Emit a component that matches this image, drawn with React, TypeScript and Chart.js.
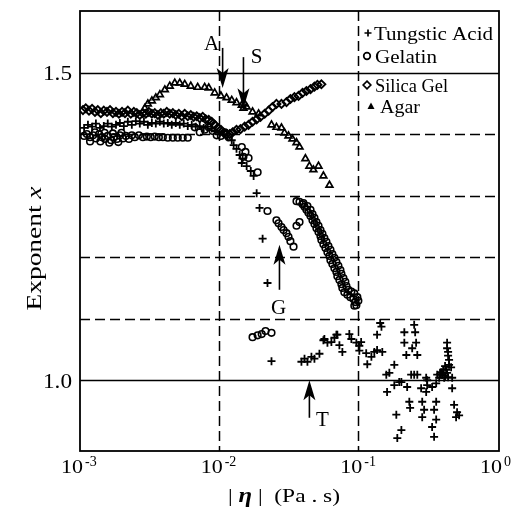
import React, { useEffect, useRef } from "react";
import { Chart, registerables } from "chart.js";

Chart.register(...registerables);

const SERIF = '"Liberation Serif", "Times New Roman", serif';

// ---------------- data (|eta| in Pa.s, exponent x) ----------------
const tungsticAcid: [number, number][] = [
  [0.00107, 1.41], [0.00114, 1.415], [0.00122, 1.412], [0.0013, 1.417], [0.00139, 1.41], [0.00148, 1.413],
  [0.00158, 1.417], [0.00169, 1.412], [0.00181, 1.415], [0.00193, 1.418], [0.00206, 1.413], [0.0022, 1.42],
  [0.00235, 1.415], [0.00251, 1.421], [0.00268, 1.417], [0.00287, 1.42], [0.00306, 1.415], [0.00327, 1.418],
  [0.00349, 1.417], [0.00373, 1.42], [0.00398, 1.417], [0.00425, 1.418], [0.00454, 1.415], [0.00485, 1.418],
  [0.00518, 1.415], [0.00553, 1.417], [0.00591, 1.413], [0.00631, 1.415], [0.00674, 1.412], [0.0072, 1.413],
  [0.00769, 1.41], [0.00821, 1.412], [0.00877, 1.409], [0.00936, 1.405], [0.01, 1.402], [0.0107, 1.399],
  [0.0114, 1.395], [0.0122, 1.39], [0.0126, 1.382], [0.0132, 1.376], [0.0139, 1.366], [0.0146, 1.36],
  [0.0144, 1.353], [0.0156, 1.348], [0.0167, 1.34], [0.0175, 1.332], [0.0184, 1.304], [0.0193, 1.28],
  [0.0203, 1.23], [0.022, 1.158], [0.0235, 1.031],
  [0.0385, 1.03], [0.0405, 1.035], [0.0425, 1.03], [0.0454, 1.038], [0.0477, 1.035], [0.0518, 1.043],
  [0.0553, 1.065], [0.0562, 1.067], [0.0591, 1.061], [0.0631, 1.062], [0.0663, 1.069], [0.0685, 1.074],
  [0.0696, 1.074], [0.072, 1.057], [0.0756, 1.046], [0.0848, 1.075], [0.0877, 1.067], [0.0952, 1.061],
  [0.1, 1.056], [0.103, 1.062], [0.1, 1.048], [0.112, 1.044], [0.114, 1.026], [0.122, 1.038],
  [0.128, 1.046], [0.134, 1.049], [0.146, 1.046], [0.134, 1.074], [0.141, 1.093], [0.144, 1.087],
  [0.178, 1.025], [0.156, 1.009], [0.164, 1.012], [0.158, 0.981], [0.178, 0.992], [0.193, 0.997],
  [0.21, 1.061], [0.217, 1.041], [0.21, 1.078], [0.247, 1.09], [0.251, 1.078], [0.255, 1.061],
  [0.239, 1.052], [0.26, 1.041], [0.235, 1.009], [0.247, 1.009], [0.26, 1.009], [0.22, 0.989],
  [0.2, 0.997], [0.184, 0.944], [0.2, 0.919], [0.187, 0.906], [0.228, 0.965], [0.231, 0.955],
  [0.277, 0.987], [0.282, 0.965], [0.291, 0.952], [0.282, 0.94], [0.301, 1.004], [0.306, 0.992],
  [0.355, 0.965], [0.343, 0.952], [0.332, 0.924], [0.343, 0.908], [0.355, 0.936], [0.361, 1.009],
  [0.385, 1.013], [0.392, 1.009], [0.373, 1.004], [0.418, 1.017], [0.425, 1.012], [0.425, 1.061],
  [0.432, 1.046], [0.432, 1.04], [0.439, 1.033], [0.439, 1.025], [0.425, 1.052], [0.462, 1.004],
  [0.462, 0.987], [0.477, 0.96], [0.501, 0.948], [0.493, 0.94], [0.518, 0.943], [0.454, 1.021],
  [0.405, 1.004], [0.306, 1.0], [0.355, 0.995], [0.301, 0.981], [0.332, 0.989], [0.398, 1.017],
  [0.411, 1.007], [0.379, 1.01], [0.432, 1.005], [0.411, 1.023],
];

const gelatin: [number, number][] = [
  [0.00107, 1.397], [0.00112, 1.4], [0.00118, 1.395], [0.00124, 1.398], [0.0013, 1.393], [0.00137, 1.4],
  [0.00144, 1.395], [0.00151, 1.392], [0.00158, 1.397], [0.00167, 1.39], [0.00175, 1.395], [0.00184, 1.392],
  [0.00193, 1.398], [0.00203, 1.393], [0.00213, 1.397], [0.00224, 1.392], [0.00235, 1.398], [0.00247, 1.395],
  [0.00264, 1.398], [0.00282, 1.395], [0.00301, 1.396], [0.00321, 1.395], [0.00343, 1.396], [0.00367, 1.395],
  [0.00392, 1.395], [0.00425, 1.394], [0.00462, 1.394], [0.00501, 1.394], [0.00544, 1.394], [0.00591, 1.394],
  [0.0014, 1.388], [0.0015, 1.402], [0.00162, 1.386], [0.00172, 1.401], [0.00188, 1.387], [0.00198, 1.402],
  [0.00128, 1.403], [0.00118, 1.388],
  [0.00663, 1.411], [0.0072, 1.403], [0.00781, 1.407], [0.00835, 1.411], [0.00891, 1.405], [0.00952, 1.398],
  [0.0102, 1.397], [0.0109, 1.403], [0.0116, 1.395], [0.0144, 1.379], [0.0153, 1.371], [0.0148, 1.363],
  [0.0161, 1.361], [0.0187, 1.338], [0.022, 1.275], [0.0255, 1.26], [0.0264, 1.255], [0.0277, 1.249],
  [0.0287, 1.244], [0.0301, 1.239], [0.0311, 1.233], [0.0321, 1.226], [0.0338, 1.217], [0.0355, 1.251],
  [0.0373, 1.257], [0.0172, 1.07], [0.0187, 1.073], [0.02, 1.075], [0.0213, 1.08], [0.0235, 1.077],
  [0.0355, 1.291], [0.0373, 1.29], [0.0392, 1.286], [0.0405, 1.282], [0.0418, 1.277], [0.0432, 1.272],
  [0.0447, 1.267], [0.0462, 1.26], [0.0477, 1.254], [0.0493, 1.247], [0.051, 1.241], [0.0527, 1.234],
  [0.0535, 1.228], [0.0553, 1.221], [0.0572, 1.215], [0.0591, 1.208], [0.0611, 1.202], [0.0621, 1.195],
  [0.0641, 1.189], [0.0663, 1.182], [0.0685, 1.176], [0.0696, 1.169], [0.072, 1.163], [0.0744, 1.156],
  [0.0756, 1.15], [0.0781, 1.143], [0.0821, 1.139], [0.0862, 1.135], [0.0906, 1.132], [0.0936, 1.127],
  [0.0952, 1.122],
  [0.0398, 1.288], [0.0425, 1.283], [0.0447, 1.277], [0.0462, 1.27], [0.0477, 1.264], [0.0493, 1.257],
  [0.051, 1.251], [0.0527, 1.244], [0.0544, 1.238], [0.0562, 1.231], [0.0581, 1.225], [0.0601, 1.218],
  [0.0621, 1.212], [0.0641, 1.205], [0.0663, 1.199], [0.0685, 1.192], [0.0708, 1.186], [0.0732, 1.179],
  [0.0744, 1.173], [0.0769, 1.166], [0.0794, 1.16], [0.0808, 1.153], [0.0835, 1.147], [0.0877, 1.144],
  [0.0921, 1.141], [0.0968, 1.135], [0.0984, 1.129], [0.0921, 1.121],
];

const silicaGel: [number, number][] = [
  [0.00105, 1.439], [0.0011, 1.442], [0.00116, 1.438], [0.00122, 1.441], [0.00128, 1.436], [0.00134, 1.439],
  [0.00141, 1.434], [0.00148, 1.438], [0.00156, 1.436], [0.00164, 1.439], [0.00172, 1.434], [0.00181, 1.436],
  [0.0019, 1.433], [0.002, 1.436], [0.0021, 1.434], [0.0022, 1.438], [0.00231, 1.433], [0.00243, 1.436],
  [0.00255, 1.434], [0.00268, 1.431], [0.00282, 1.434], [0.00296, 1.433], [0.00311, 1.436], [0.00327, 1.433],
  [0.00343, 1.434], [0.00361, 1.431], [0.00379, 1.434], [0.00398, 1.433], [0.00418, 1.436], [0.00439, 1.433],
  [0.00462, 1.434], [0.00485, 1.431], [0.0051, 1.433], [0.00535, 1.429], [0.00562, 1.433], [0.00591, 1.429],
  [0.00621, 1.431], [0.00652, 1.428], [0.00685, 1.429], [0.0072, 1.426], [0.00756, 1.428], [0.00794, 1.424],
  [0.00835, 1.423], [0.00877, 1.42], [0.00921, 1.415], [0.00968, 1.41], [0.0102, 1.407], [0.0107, 1.402],
  [0.0112, 1.4], [0.0118, 1.4], [0.0124, 1.403], [0.0132, 1.407], [0.0141, 1.408], [0.0151, 1.412],
  [0.0161, 1.415], [0.0172, 1.42], [0.0184, 1.424], [0.0196, 1.428], [0.021, 1.433], [0.0224, 1.438],
  [0.0239, 1.444], [0.0255, 1.449], [0.0277, 1.449], [0.0301, 1.452], [0.0321, 1.457], [0.0343, 1.46],
  [0.0367, 1.462], [0.0392, 1.467], [0.0418, 1.47], [0.0447, 1.473], [0.0477, 1.477], [0.0501, 1.48],
  [0.0535, 1.481],
];

const agar: [number, number][] = [
  [0.00291, 1.442], [0.00306, 1.449], [0.00327, 1.454], [0.00349, 1.459], [0.00373, 1.464], [0.00405, 1.472],
  [0.00439, 1.478], [0.00477, 1.483], [0.00518, 1.483], [0.00562, 1.481], [0.00621, 1.478], [0.00696, 1.476],
  [0.00781, 1.476], [0.00835, 1.475], [0.00921, 1.467], [0.0102, 1.462], [0.0112, 1.459], [0.0122, 1.455],
  [0.0132, 1.451], [0.0144, 1.447], [0.0151, 1.449], [0.0148, 1.442], [0.0156, 1.444], [0.0172, 1.436],
  [0.019, 1.433], [0.0235, 1.415], [0.0255, 1.411], [0.0277, 1.41], [0.0291, 1.402], [0.0311, 1.397],
  [0.0332, 1.392], [0.0355, 1.386], [0.0373, 1.379], [0.0411, 1.36], [0.0439, 1.348], [0.0469, 1.342],
  [0.051, 1.348], [0.0553, 1.332], [0.0611, 1.317],
];

const seriesNames = ["Tungstic Acid", "Gelatin", "Silica Gel", "Agar"];

// axes
const xMin = 0.001;
const xMax = 1;
const yMin = 0.885;
const yMax = 1.6;
const xTickValues = [0.001, 0.01, 0.1, 1];
const xTickExponents = ["-3", "-2", "-1", "0"];
const yTickValues = [1.0, 1.5];
const yTickLabels = ["1.0", "1.5"];
const solidHLines = [1.0, 1.5];
const dashedHLines = [1.1, 1.2, 1.3, 1.4];
const dashedVLines = [0.01, 0.1];

// arrow annotations
const markLetters = ["A", "S", "G", "T"];
const markArrowX = [0.0105, 0.0148, 0.0268, 0.0439];
const markArrowBaseY = [1.54, 1.525, 1.147, 0.939];
const markArrowTipY = [1.475, 1.442, 1.22, 1.0];
const markLetterX = [0.00877, 0.0184, 0.0264, 0.0544];
const markLetterY = [1.546, 1.525, 1.116, 0.934];

type Seg = { t: string; f: string };

function fitText(ctx: CanvasRenderingContext2D, segs: Seg[], x: number, y: number, width: number, align: "left" | "center" | "right") {
  let total = 0;
  const ws = segs.map((s) => {
    ctx.font = s.f;
    const w = ctx.measureText(s.t).width;
    total += w;
    return w;
  });
  const k = width > 0 ? width / total : 1;
  ctx.save();
  ctx.translate(x, y);
  ctx.scale(k, 1);
  let start = align === "left" ? 0 : align === "center" ? -total / 2 : -total;
  ctx.textAlign = "left";
  ctx.textBaseline = "alphabetic";
  segs.forEach((s, i) => {
    ctx.font = s.f;
    ctx.fillText(s.t, start, 0);
    start += ws[i];
  });
  ctx.restore();
}

function seg(t: string, size: number, style = ""): Seg {
  return { t, f: `${style} ${size}px ${SERIF}`.trim() };
}

const decor = {
  id: "decor",
  beforeDraw(chart: any) {
    const { ctx, width, height } = chart;
    ctx.save();
    ctx.fillStyle = "#fff";
    ctx.fillRect(0, 0, width, height);
    ctx.restore();
  },
  beforeDatasetsDraw(chart: any) {
    const { ctx, chartArea: a, scales } = chart;
    const xs = scales.x;
    const ys = scales.y;
    ctx.save();
    ctx.strokeStyle = "#000";
    ctx.lineWidth = 1.5;
    ctx.setLineDash([10, 5]);
    dashedHLines.forEach((v) => {
      const py = Math.round(ys.getPixelForValue(v)) + 0.5;
      ctx.beginPath();
      ctx.moveTo(a.left, py);
      ctx.lineTo(a.right, py);
      ctx.stroke();
    });
    dashedVLines.forEach((v) => {
      const px = Math.round(xs.getPixelForValue(v)) - 0.5;
      ctx.beginPath();
      ctx.moveTo(px, a.top);
      ctx.lineTo(px, a.bottom);
      ctx.stroke();
    });
    ctx.setLineDash([]);
    ctx.lineWidth = 1.6;
    solidHLines.forEach((v) => {
      const py = Math.round(ys.getPixelForValue(v)) + 0.5;
      ctx.beginPath();
      ctx.moveTo(a.left, py);
      ctx.lineTo(a.right, py);
      ctx.stroke();
    });
    ctx.restore();
  },
  afterDatasetsDraw(chart: any) {
    const { ctx, chartArea: a, scales } = chart;
    const xs = scales.x;
    const ys = scales.y;
    ctx.save();
    ctx.strokeStyle = "#000";
    ctx.fillStyle = "#000";
    // frame
    ctx.lineWidth = 1.8;
    ctx.strokeRect(a.left, a.top, a.right - a.left, a.bottom - a.top);

    // y tick labels
    yTickValues.forEach((v, i) => {
      const py = ys.getPixelForValue(v);
      fitText(ctx, [seg(yTickLabels[i], 21)], a.left - 8, py + 7.5, 29, "right");
    });

    // x tick labels 10^n
    xTickValues.forEach((v, i) => {
      const px = xs.getPixelForValue(v);
      fitText(ctx, [seg("10", 19)], px + 3, a.bottom + 22, 22, "right");
      fitText(ctx, [seg(xTickExponents[i], 14)], px + 5, a.bottom + 15, 0, "left");
    });

    // axis titles
    fitText(ctx, [seg("| ", 19), seg("\u03b7", 20, "italic bold"), seg(" |  (Pa . s)", 19)], 284, 502, 112, "center");
    ctx.save();
    ctx.translate(40.5, 248.5);
    ctx.rotate(-Math.PI / 2);
    fitText(ctx, [seg("Exponent ", 20), seg("x", 20, "italic")], 0, 0, 124, "center");
    ctx.restore();

    // legend
    const lx = 367;
    const rows = [33, 56, 85, 106];
    const textX = [374, 375, 375, 380];
    const textW = [119, 62, 73, 40];
    ctx.lineWidth = 1.7;
    // +
    ctx.beginPath();
    ctx.moveTo(lx + 1 - 3.5, rows[0]);
    ctx.lineTo(lx + 1 + 3.5, rows[0]);
    ctx.moveTo(lx + 1, rows[0] - 3.5);
    ctx.lineTo(lx + 1, rows[0] + 3.5);
    ctx.stroke();
    // o
    ctx.beginPath();
    ctx.arc(lx, rows[1], 3.3, 0, Math.PI * 2);
    ctx.stroke();
    // diamond
    ctx.beginPath();
    ctx.moveTo(lx, rows[2] - 3.8);
    ctx.lineTo(lx + 3.8, rows[2]);
    ctx.lineTo(lx, rows[2] + 3.8);
    ctx.lineTo(lx - 3.8, rows[2]);
    ctx.closePath();
    ctx.stroke();
    // filled triangle
    ctx.beginPath();
    ctx.moveTo(lx + 4, rows[3] - 3.5);
    ctx.lineTo(lx + 7.5, rows[3] + 3);
    ctx.lineTo(lx + 0.5, rows[3] + 3);
    ctx.closePath();
    ctx.fill();
    seriesNames.forEach((n, i) => {
      fitText(ctx, [seg(n, 19)], textX[i], rows[i] + 6.5, textW[i], "left");
    });

    // arrows + letters
    ctx.lineWidth = 1.6;
    markLetters.forEach((L, i) => {
      const px = xs.getPixelForValue(markArrowX[i]);
      const pb = ys.getPixelForValue(markArrowBaseY[i]);
      const pt = ys.getPixelForValue(markArrowTipY[i]);
      const dir = pt > pb ? 1 : -1;
      const headLen = 20;
      const headW = 6;
      ctx.beginPath();
      ctx.moveTo(px, pb);
      ctx.lineTo(px, pt - dir * headLen * 0.6);
      ctx.stroke();
      ctx.beginPath();
      ctx.moveTo(px, pt);
      ctx.lineTo(px - headW, pt - dir * headLen);
      ctx.lineTo(px, pt - dir * headLen * 0.75);
      ctx.lineTo(px + headW, pt - dir * headLen);
      ctx.closePath();
      ctx.fill();
      const lxp = xs.getPixelForValue(markLetterX[i]);
      const lyp = ys.getPixelForValue(markLetterY[i]);
      ctx.font = `21px ${SERIF}`;
      ctx.textAlign = "center";
      ctx.textBaseline = "middle";
      ctx.fillText(L, lxp, lyp);
    });
    ctx.restore();
  },
};

function toPoints(arr: [number, number][]) {
  return arr.map(([x, y]) => ({ x, y }));
}

export default function App() {
  const ref = useRef<HTMLCanvasElement | null>(null);
  useEffect(() => {
    if (!ref.current) return;
    const common = { borderColor: "#000", backgroundColor: "rgba(0,0,0,0)", showLine: false };
    const chart = new Chart(ref.current, {
      type: "scatter",
      data: {
        datasets: [
          { ...common, label: seriesNames[0], data: toPoints(tungsticAcid), pointStyle: "cross", pointRadius: 4, borderWidth: 1.8 },
          { ...common, label: seriesNames[1], data: toPoints(gelatin), pointStyle: "circle", pointRadius: 3.3, borderWidth: 1.6 },
          { ...common, label: seriesNames[2], data: toPoints(silicaGel), pointStyle: "rectRot", pointRadius: 4, borderWidth: 1.9 },
          { ...common, label: seriesNames[3], data: toPoints(agar), pointStyle: "triangle", pointRadius: 3.9, borderWidth: 1.7 },
        ] as any,
      },
      options: {
        animation: false,
        responsive: false,
        devicePixelRatio: 1,
        events: [],
        layout: { padding: { left: 80, right: 17, top: 11, bottom: 68 } },
        scales: {
          x: { type: "logarithmic", min: xMin, max: xMax, display: false },
          y: { type: "linear", min: yMin, max: yMax, display: false },
        },
        plugins: { legend: { display: false }, tooltip: { enabled: false } },
      } as any,
      plugins: [decor],
    });
    return () => chart.destroy();
  }, []);
  return (
    <div style={{ position: "fixed", left: 0, top: 0, width: 516, height: 519, background: "#fff" }}>
      <canvas ref={ref} width={516} height={519} style={{ display: "block" }} />
    </div>
  );
}
